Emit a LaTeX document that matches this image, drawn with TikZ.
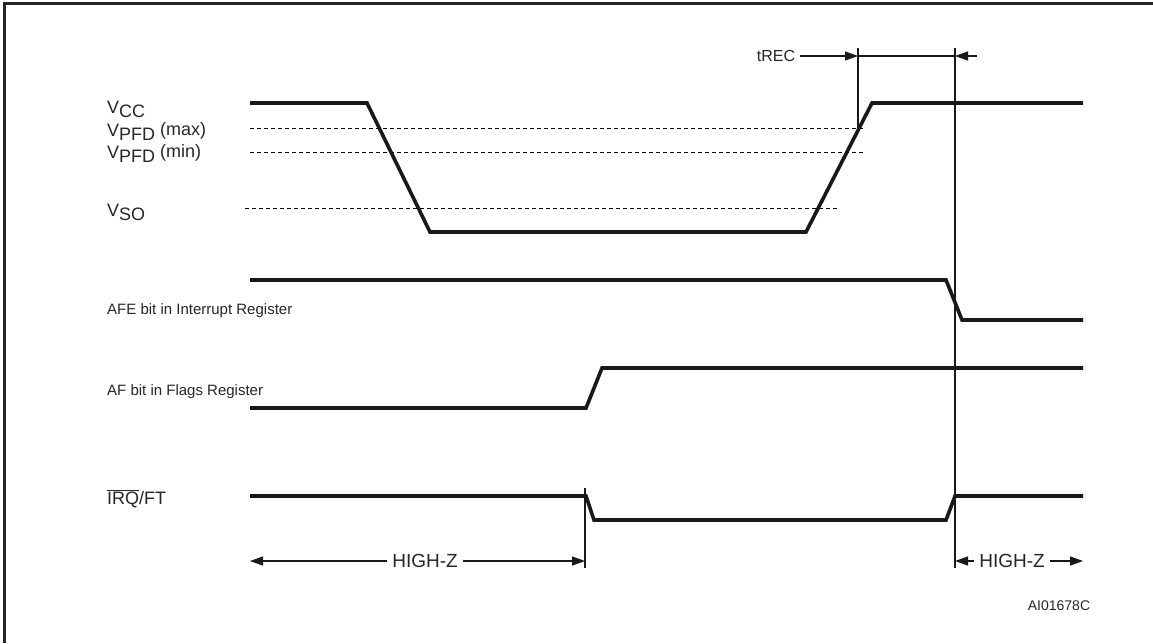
\documentclass[tikz,border=0pt]{standalone}
\usepackage{fontspec}
\setmainfont{Liberation Sans}
\usetikzlibrary{arrows.meta}
\begin{document}
\begin{tikzpicture}[x=1pt,y=-1pt,
  signal/.style={black!90,line width=3.6pt,line join=miter},
  level/.style={black,line width=0.8pt,dash pattern=on 4pt off 3pt},
  marker/.style={black!90,line width=1.8pt},
  dimline/.style={black!90,line width=1.3pt},
  tip/.style={-{Triangle[length=13pt,width=9pt]}},
  lbl/.style={text=black!85,anchor=base west,inner sep=0pt,font=\fontsize{15}{17}\selectfont},
  vlbl/.style={lbl,font=\fontsize{18}{20}\selectfont},
  dimtext/.style={text=black!85,inner sep=5pt,font=\fontsize{16}{18}\selectfont}]

\useasboundingbox (0,0) rectangle (1153,643);

% frame:
\draw[black!85,line width=3pt] (4.5,643) -- (4.5,3.5) -- (1153,3.5);

% level labels:
\node[vlbl] (vcc) at (107,113) {V\raisebox{-4pt}{CC}};
\node[vlbl] (vmax) at (107,136) {V\raisebox{-4pt}{PFD}\ \raisebox{1pt}{(max)}};
\node[vlbl] (vmin) at (107,158) {V\raisebox{-4pt}{PFD}\ \raisebox{1pt}{(min)}};
\node[vlbl] (vso) at (107,216) {V\raisebox{-4pt}{SO}};
\node[lbl] (afe) at (107,314) {AFE bit in Interrupt Register};
\node[lbl] (af) at (107,395) {AF bit in Flags Register};
\node[vlbl] (irq) at (107,504) {$\overline{\mbox{IRQ}}$/FT};

% thresholds:
\draw[level] (250,128) -- (865,128);
\draw[level] (250,152) -- (865,152);
\draw[level] (245,208) -- (838,208);

% signals:
\draw[signal] (250,103) -- (367,103) -- (430,232) -- (806,232) -- (872,103) -- (1083,103);
\draw[signal] (250,280) -- (946,280) -- (962,320) -- (1083,320);
\draw[signal] (250,408) -- (586,408) -- (602,368) -- (1083,368);
\draw[signal] (250,496) -- (586,496) -- (594,520) -- (946,520) -- (955,496) -- (1083,496);

% markers:
\coordinate (m1top) at (858,48);
\coordinate (m1bot) at (858,130);
\coordinate (m2top) at (955,48);
\coordinate (m2bot) at (955,568);
\coordinate (m3top) at (585,488);
\coordinate (m3bot) at (585,568);
\draw[marker] (m1top) -- (m1bot);
\draw[marker] (m2top) -- (m2bot);
\draw[marker] (m3top) -- (m3bot);

% tREC:
\node[dimtext] (trec) at (776,56) {tREC};
\draw[dimline,tip] (trec.east) -- (m1top |- trec);
\draw[dimline] (m1top |- trec) -- (m2top |- trec);
\coordinate (trecend) at (977,56);
\draw[dimline,tip] (trecend) -- (m2top |- trecend);

% HIGH-Z:
\node[dimtext,font=\fontsize{19}{21}\selectfont] (hz1) at (425,561) {HIGH-Z};
\coordinate (hz1end) at (250,561);
\draw[dimline,tip] (hz1.west) -- (hz1end);
\draw[dimline,tip] (hz1.east) -- (m3bot |- hz1);
\node[dimtext,font=\fontsize{19}{21}\selectfont] (hz2) at (1012,561) {HIGH-Z};
\coordinate (hz2end) at (1083,561);
\draw[dimline,tip] (hz2.west) -- (m2bot |- hz2);
\draw[dimline,tip] (hz2.east) -- (hz2end);

\node[text=black!85,font=\fontsize{14}{16}\selectfont] (code) at (1059,606) {AI01678C};

\end{tikzpicture}
\end{document}
